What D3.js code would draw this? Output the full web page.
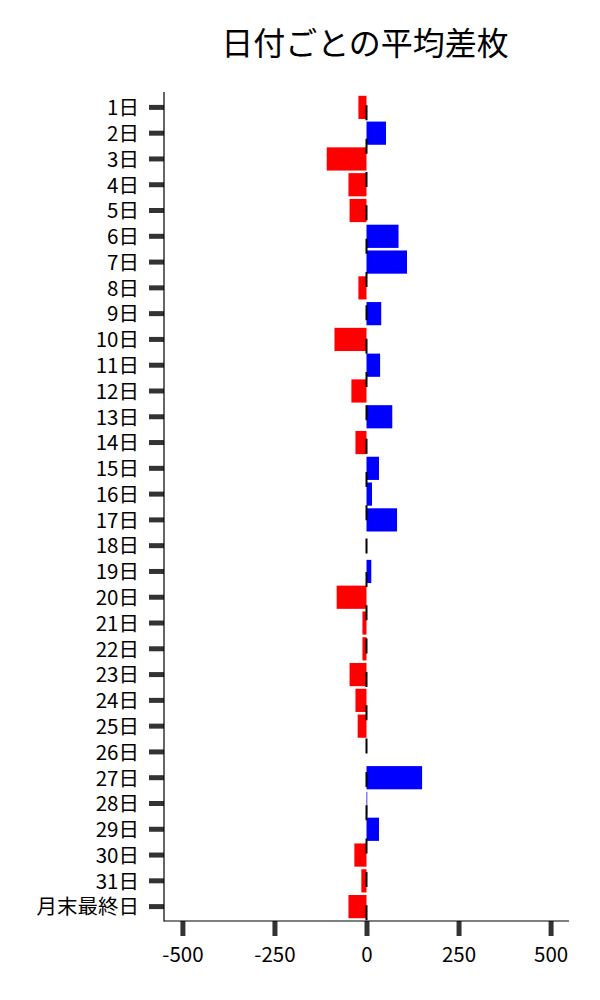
<!DOCTYPE html>
<html>
<head>
<meta charset="utf-8">
<script src="https://cdn.jsdelivr.net/npm/d3@7"></script>
<style>
	body { margin: 0; background: #fff; }
	text { font-family: "Noto Sans CJK JP", "Noto Sans", sans-serif; }
</style>
</head>
<body>
<svg id="chart" width="600" height="1000"></svg>
<script>
// data
var days = ['1日','2日','3日','4日','5日','6日','7日','8日','9日','10日',
	'11日','12日','13日','14日','15日','16日','17日','18日','19日','20日',
	'21日','22日','23日','24日','25日','26日','27日','28日','29日','30日',
	'31日','月末最終日']
var avgDiff = [-22, 53, -108, -49, -46, 87, 110, -22, 40, -87,
	37, -41, 70, -30, 34, 15, 83, 0, 13, -81,
	-11, -11, -46, -30, -24, 0, 151, 2, 34, -33,
	-14, -49]
var xTicks = [-500, -250, 0, 250, 500]

var margin = {
	'left' : 164,
	'right' : 31,
	'top' : 93,
	'bottom' : 79,
}

var svg = d3.select('#chart')
var width = 600
var height = 1000

var xscale = d3.scaleLinear()
	.domain([-550, 550])
	.range([margin.left, width - margin.right])

var yscale = d3.scaleBand()
	.domain(days)
	.range([margin.top + 1.5, height - margin.bottom - 1.5])
	.paddingInner(0.1)
	.paddingOuter(0.05)

// title
svg.append('text')
	.attr('x', 365)
	.attr('y', 43)
	.attr('dy', '0.36em')
	.attr('text-anchor', 'middle')
	.style('font-size', '32px')
	.style('fill', '#000')
	.text('日付ごとの平均差枚')

// bars
svg.selectAll('.bar').data(avgDiff)
	.enter().append('rect')
		.attr('class', 'bar')
		.attr('x', d => xscale(Math.min(0, d)))
		.attr('width', d => Math.abs(xscale(d) - xscale(0)))
		.attr('y', (d, i) => yscale(days[i]))
		.attr('height', yscale.bandwidth())
		.attr('fill', d => d < 0 ? '#ff0000' : '#0000ff')

// dashed zero line
svg.append('line')
	.attr('x1', xscale(0)).attr('x2', xscale(0))
	.attr('y1', margin.top + 1).attr('y2', height - margin.bottom)
	.attr('stroke', '#000')
	.attr('stroke-width', 2)
	.attr('stroke-dasharray', '15,18.33')
	.attr('stroke-dashoffset', 22)

// y axis
var yAxis = svg.append('g')
	.attr('transform', 'translate(' + margin.left + ',0)')
	.call(d3.axisLeft(yscale).tickSize(15).tickPadding(10))
yAxis.select('.domain').remove()
yAxis.selectAll('.tick line')
	.attr('stroke', '#333')
	.attr('stroke-width', 5)
yAxis.selectAll('.tick text')
	.attr('dy', '0.38em')
	.style('font-size', '20.5px')
	.style('fill', '#000')
	.style('font-family', '"Noto Sans CJK JP", sans-serif')

// x axis
var xAxis = svg.append('g')
	.attr('transform', 'translate(0,' + (height - margin.bottom) + ')')
	.call(d3.axisBottom(xscale).tickValues(xTicks).tickSize(15).tickPadding(11).tickFormat(d3.format('d')))
xAxis.select('.domain').remove()
xAxis.selectAll('.tick line')
	.attr('stroke', '#333')
	.attr('stroke-width', 5)
xAxis.selectAll('.tick text')
	.style('font-size', '20.5px')
	.style('fill', '#000')
	.style('font-family', '"Noto Sans CJK JP", sans-serif')
	.text(d => d < 0 ? '-' + Math.abs(d) : d)

// spines
svg.append('line')
	.attr('x1', margin.left).attr('x2', margin.left)
	.attr('y1', margin.top - 1).attr('y2', height - margin.bottom + 0.5)
	.attr('stroke', '#000').attr('stroke-width', 1.2)
svg.append('line')
	.attr('x1', margin.left).attr('x2', width - margin.right)
	.attr('y1', height - margin.bottom).attr('y2', height - margin.bottom)
	.attr('stroke', '#000').attr('stroke-width', 1.2)
</script>
</body>
</html>
